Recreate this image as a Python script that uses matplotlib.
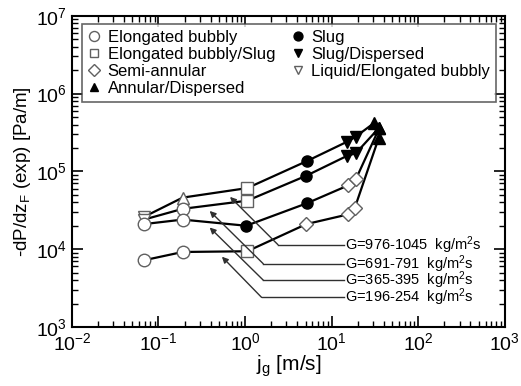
import matplotlib
matplotlib.use('Agg')
import matplotlib.pyplot as plt
from matplotlib.lines import Line2D

plt.rcParams['font.family'] = ['Liberation Sans', 'DejaVu Sans']
plt.rcParams['mathtext.fontset'] = 'custom'
plt.rcParams['mathtext.rm'] = 'Liberation Sans'
plt.rcParams['mathtext.it'] = 'Liberation Sans:italic'

# flow regimes (legend order)
regimes = ['Elongated bubbly', 'Elongated bubbly/Slug', 'Semi-annular', 'Annular/Dispersed',
           'Slug', 'Slug/Dispersed', 'Liquid/Elongated bubbly']

# data for each mass flux range
g_labels = ['G=976-1045  kg/m$^2$s', 'G=691-791  kg/m$^2$s',
            'G=365-395  kg/m$^2$s', 'G=196-254  kg/m$^2$s']

jg_976 = [0.068, 0.19, 1.06, 5.2, 15.0, 19.0, 31.0]
dp_976 = [2.6e4, 4.6e4, 6.1e4, 1.36e5, 2.4e5, 2.8e5, 4.2e5]
rg_976 = ['Liquid/Elongated bubbly', 'open up', 'Elongated bubbly/Slug', 'Slug',
          'Slug/Dispersed', 'Slug/Dispersed', 'Annular/Dispersed']

jg_691 = [0.068, 0.19, 1.06, 5.1, 15.0, 19.0, 35.0]
dp_691 = [2.4e4, 3.3e4, 4.2e4, 8.8e4, 1.58e5, 1.71e5, 3.6e5]
rg_691 = ['Liquid/Elongated bubbly', 'Elongated bubbly', 'Elongated bubbly/Slug', 'Slug',
          'Slug/Dispersed', 'Slug/Dispersed', 'Annular/Dispersed']

jg_365 = [0.068, 0.19, 1.03, 5.2, 15.5, 19.0, 35.5]
dp_365 = [2.1e4, 2.4e4, 2.0e4, 3.9e4, 6.6e4, 7.9e4, 3.6e5]
rg_365 = ['Elongated bubbly', 'Elongated bubbly', 'Slug', 'Slug',
          'Semi-annular', 'Semi-annular', 'Annular/Dispersed']

jg_196 = [0.068, 0.19, 1.06, 5.1, 15.5, 18.5, 35.0]
dp_196 = [7.2e3, 9.2e3, 9.4e3, 2.1e4, 2.8e4, 3.4e4, 2.7e5]
rg_196 = ['Elongated bubbly', 'Elongated bubbly', 'Elongated bubbly/Slug', 'Semi-annular',
          'Semi-annular', 'Semi-annular', 'Annular/Dispersed']

series = [(jg_976, dp_976, rg_976), (jg_691, dp_691, rg_691),
          (jg_365, dp_365, rg_365), (jg_196, dp_196, rg_196)]

# annotation arrows: arrow head, elbow, label position
arrow_heads = [(0.67, 4.7e4), (0.39, 3.1e4), (0.39, 1.9e4), (0.54, 8.0e3)]
arrow_elbows = [(2.4, 1.14e4), (1.62, 6.5e3), (1.62, 4.0e3), (1.55, 2.4e3)]
label_x = 14.0

gray = '#606060'
styles = {
    'Elongated bubbly': dict(marker='o', mfc='white', mec=gray, ms=9),
    'Elongated bubbly/Slug': dict(marker='s', mfc='white', mec=gray, ms=8),
    'Semi-annular': dict(marker='D', mfc='white', mec=gray, ms=7.5),
    'Annular/Dispersed': dict(marker='^', mfc='black', mec='black', ms=8),
    'Slug': dict(marker='o', mfc='black', mec='black', ms=8),
    'Slug/Dispersed': dict(marker='v', mfc='black', mec='black', ms=8),
    'Liquid/Elongated bubbly': dict(marker='v', mfc='white', mec=gray, ms=8),
    'open up': dict(marker='^', mfc='white', mec=gray, ms=9),
}

fig = plt.figure(figsize=(5.21, 3.86), dpi=100)
ax = fig.add_axes([0.138, 0.153, 0.831, 0.806])

for jg, dp, rg in series:
    ax.plot(jg, dp, color='black', lw=1.6, zorder=2)
    for x, y, r in zip(jg, dp, rg):
        ax.plot([x], [y], ls='none', mew=1.0, zorder=3, **styles[r])

for lab, head, elbow in zip(g_labels, arrow_heads, arrow_elbows):
    ax.plot([elbow[0], label_x], [elbow[1], elbow[1]], color='#303030', lw=1.0, zorder=1)
    ax.annotate('', xy=head, xytext=elbow,
                arrowprops=dict(arrowstyle='-|>', color='#303030', lw=1.0,
                                mutation_scale=9, shrinkA=0, shrinkB=0))
    ax.text(label_x * 1.02, elbow[1], lab, fontsize=10.5, va='center', ha='left')

ax.set_xscale('log')
ax.set_yscale('log')
ax.set_xlim(1e-2, 1e3)
ax.set_ylim(1e3, 1e7)
ax.set_xlabel('j$_\\mathrm{g}$ [m/s]', fontsize=15, labelpad=0)
ax.set_ylabel('-dP/dz$_\\mathrm{F}$ (exp) [Pa/m]', fontsize=13.5, labelpad=2)
ax.tick_params(which='both', direction='in', top=True, right=True, labelsize=14)
ax.tick_params(which='major', length=8, width=1.2)
ax.tick_params(which='minor', length=4, width=1.0)
for s in ax.spines.values():
    s.set_linewidth(1.5)

handles = [Line2D([], [], ls='none', mew=1.0, **dict(styles[r], ms=styles[r]['ms'] * 0.8))
           for r in regimes]
leg = ax.legend(handles, regimes, ncol=2, fontsize=12, loc='upper left',
                bbox_to_anchor=(0.023, 0.711, 0.957, 0.263), mode='expand',
                frameon=True, fancybox=False,
                edgecolor='#404040', handlelength=0.8, handletextpad=0.4,
                columnspacing=0.3, labelspacing=0.12, borderpad=0.35, borderaxespad=0)
leg.get_frame().set_linewidth(1.2)

fig.savefig('out.png', dpi=100)
